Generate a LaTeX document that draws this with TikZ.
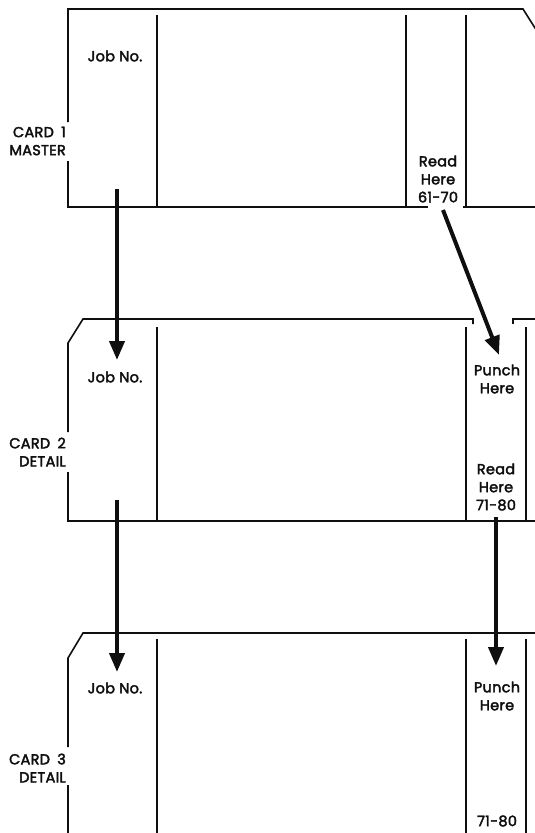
\documentclass[tikz,border=0pt]{standalone}
\usepackage{fontspec}
\setmainfont{Poppins}
\newfontfamily\cardfont{Poppins}[FakeBold=2.6, LetterSpace=2]
\definecolor{CardInk}{RGB}{15, 15, 15}
\usetikzlibrary{arrows.meta, positioning}
\tikzset{
    cardline/.style={draw=CardInk, line width=1.6pt},
    colline/.style={draw=CardInk, line width=1.3pt},
    flowarrow/.style={draw=CardInk, line width=4pt, -{Triangle[length=19pt, width=15pt]}},
    fieldtext/.style={font=\cardfont\fontsize{14.5}{18}\selectfont, align=center, inner sep=0pt, text=CardInk},
    cardname/.style={font=\cardfont\fontsize{14.5}{18}\selectfont, align=right, anchor=east, inner sep=0pt, text=CardInk},
}
\begin{document}
\begin{tikzpicture}[x=1pt, y=-1pt]
    \useasboundingbox (0,0) rectangle (535,833);
    \clip (0,0) rectangle (535,833);

    % card 1 - master
    \draw[cardline] (68,122) -- (68,9) -- (523,9) -- (547,47);
    \draw[cardline] (68,161) -- (68,207) -- (428,207);
    \draw[cardline] (463,207) -- (535,207);
    \foreach \x in {157, 406, 466}
        \draw[colline] (\x,15) -- (\x,207);
    \node[cardname] (c1name) at (66,141) {CARD\enspace 1\\MASTER};
    \node[fieldtext] (c1job) at (115,56) {Job No.};
    \node[fieldtext] (c1read) at (438,179) {Read\\Here\\61-70};

    % card 2 - detail
    \draw[cardline] (68,432) -- (68,343) -- (83,319) -- (473,319) -- (473,324);
    \draw[cardline] (513,324) -- (513,319) -- (535,319);
    \draw[cardline] (68,472) -- (68,521) -- (535,521);
    \foreach \x in {157, 466, 526}
        \draw[colline] (\x,327) -- (\x,521);
    \node[cardname] (c2name) at (66,452) {CARD\enspace 2\\DETAIL};
    \node[fieldtext] (c2job) at (115,377) {Job No.};
    \node[fieldtext] (c2punch) at (497,379) {Punch\\Here};
    \node[fieldtext] (c2read) at (496,487) {Read\\Here\\71-80};

    % card 3 - detail
    \draw[cardline] (68,747) -- (68,658) -- (83,633) -- (535,633);
    \draw[cardline] (68,785) -- (68,840);
    \foreach \x in {157, 466, 526}
        \draw[colline] (\x,639) -- (\x,840);
    \node[cardname] (c3name) at (66,768) {CARD\enspace 3\\DETAIL};
    \node[fieldtext] (c3job) at (115,688) {Job No.};
    \node[fieldtext] (c3punch) at (497,696) {Punch\\Here};
    \node[fieldtext] (c3range) at (497,821) {71-80};

    % transfer arrows
    \coordinate (jobtail1) at (117,189);
    \coordinate (jobhead2) at (117,360);
    \coordinate (readtail1) at (443,210);
    \coordinate (punchhead2) at (499,355);
    \coordinate (jobtail2) at (117,500);
    \coordinate (jobhead3) at (117,672);
    \coordinate (readtail2) at (496,517);
    \coordinate (punchhead3) at (496,666);
    \draw[flowarrow] (jobtail1) -- (jobhead2);
    \draw[flowarrow] (readtail1) -- (punchhead2);
    \draw[flowarrow] (jobtail2) -- (jobhead3);
    \draw[flowarrow] (readtail2) -- (punchhead3);
\end{tikzpicture}
\end{document}
